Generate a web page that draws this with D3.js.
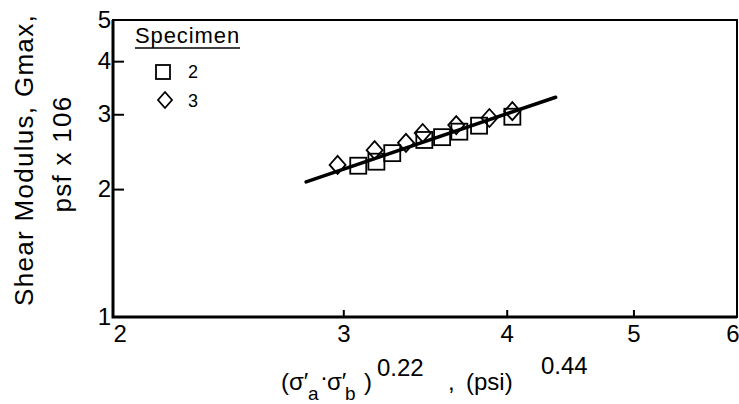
<!DOCTYPE html>
<html>
<head>
<meta charset="utf-8">
<script src="https://cdn.jsdelivr.net/npm/d3@7"></script>
<style>
  body { margin: 0; background: #fff; }
  svg { display: block; font-family: "Liberation Sans", Arial, sans-serif; }
  .axis path { display: none; }
  .axis line { stroke: #000; stroke-width: 2; }
  .axis text { font-family: "Liberation Sans", Arial, sans-serif; font-size: 24px; fill: #000; }
</style>
</head>
<body>
<svg id="chart" width="739" height="404"></svg>
<script>
// tick values
var xTicks = [2, 3, 4, 5, 6];
var yTicks = [1, 2, 3, 4, 5];

// specimen 2 (squares)
var spec2X = [3.08, 3.18, 3.27, 3.46, 3.57, 3.68, 3.81, 4.04];
var spec2Y = [2.27, 2.32, 2.43, 2.61, 2.65, 2.73, 2.82, 2.96];

// specimen 3 (diamonds)
var spec3X = [2.97, 3.17, 3.35, 3.45, 3.66, 3.88, 4.04];
var spec3Y = [2.28, 2.47, 2.57, 2.71, 2.83, 2.94, 3.05];

// fitted line end points
var fitX = [2.81, 4.36];
var fitY = [2.08, 3.29];

var legendLabels = ["2", "3"];

var svg = d3.select("#chart");

var x = d3.scaleLog().domain([2, 6]).range([113, 737]);
var y = d3.scaleLog().domain([1, 5]).range([317, 20]);

// Frame
svg.append("rect")
    .attr("x", x(2)).attr("y", y(5))
    .attr("width", x(6) - x(2)).attr("height", y(1) - y(5))
    .attr("fill", "none").attr("stroke", "#000").attr("stroke-width", 2);
svg.append("path")
    .attr("d", "M" + x(2) + "," + y(5) + "V" + y(1) + "H" + x(6))
    .attr("fill", "none").attr("stroke", "#000").attr("stroke-width", 3);

// Axes, ticks pointing inward
var xAxis = svg.append("g")
    .attr("class", "axis")
    .attr("transform", "translate(0," + y(1) + ")")
    .call(d3.axisBottom(x).tickValues(xTicks).tickFormat(d3.format("d"))
      .tickSizeInner(-7).tickSizeOuter(0).tickPadding(8));
xAxis.selectAll(".tick").filter(function(d) { return d === 2 || d === 6; }).select("line").remove();
xAxis.selectAll(".tick").filter(function(d) { return d === 2; }).select("text")
    .attr("text-anchor", "start").attr("x", 0);
xAxis.selectAll(".tick").filter(function(d) { return d === 6; }).select("text")
    .attr("text-anchor", "end").attr("x", 2);

var yAxis = svg.append("g")
    .attr("class", "axis")
    .attr("transform", "translate(" + x(2) + ",0)")
    .call(d3.axisLeft(y).tickValues(yTicks).tickFormat(d3.format("d"))
      .tickSizeInner(-11).tickSizeOuter(0).tickPadding(2));
yAxis.selectAll(".tick").filter(function(d) { return d === 1 || d === 5; }).select("line").remove();

// Fitted line
svg.append("line")
    .attr("x1", x(fitX[0])).attr("y1", y(fitY[0]))
    .attr("x2", x(fitX[1])).attr("y2", y(fitY[1]))
    .attr("stroke", "#000").attr("stroke-width", 3.5).attr("stroke-linecap", "round");

function diamond(cx, cy, w, h) {
  return "M" + cx + "," + (cy - h) + "L" + (cx + w) + "," + cy +
    "L" + cx + "," + (cy + h) + "L" + (cx - w) + "," + cy + "Z";
}

// Specimen 3 diamonds
svg.append("g").selectAll("path")
    .data(d3.range(spec3X.length))
  .join("path")
    .attr("d", function(i) { return diamond(x(spec3X[i]), y(spec3Y[i]), 8, 9); })
    .attr("fill", "none").attr("stroke", "#000").attr("stroke-width", 1.8);

// Specimen 2 squares
svg.append("g").selectAll("rect")
    .data(d3.range(spec2X.length))
  .join("rect")
    .attr("x", function(i) { return x(spec2X[i]) - 8; })
    .attr("y", function(i) { return y(spec2Y[i]) - 8; })
    .attr("width", 16).attr("height", 16)
    .attr("fill", "none").attr("stroke", "#000").attr("stroke-width", 1.8);

// Legend
var legend = svg.append("g").attr("transform", "translate(135,0)");
legend.append("text")
    .attr("x", 0).attr("y", 43)
    .attr("font-size", 22).attr("letter-spacing", 0.9)
    .text("Specimen");
legend.append("line")
    .attr("x1", 0).attr("x2", 105).attr("y1", 48).attr("y2", 48)
    .attr("stroke", "#000").attr("stroke-width", 1.6);
legend.append("rect")
    .attr("x", 21).attr("y", 65).attr("width", 14).attr("height", 14)
    .attr("fill", "none").attr("stroke", "#000").attr("stroke-width", 1.8);
legend.append("path")
    .attr("d", diamond(30, 100, 7, 8))
    .attr("fill", "none").attr("stroke", "#000").attr("stroke-width", 1.8);
legend.selectAll("text.lab")
    .data(legendLabels)
  .join("text")
    .attr("class", "lab")
    .attr("x", 53)
    .attr("y", function(d, i) { return 78 + i * 29; })
    .attr("font-size", 18)
    .text(function(d) { return d; });

// Y axis title
var yTitle = svg.append("text")
    .attr("transform", "translate(33,160) rotate(-90)")
    .attr("text-anchor", "middle")
    .attr("font-size", 26).attr("letter-spacing", 1.3);
yTitle.append("tspan").attr("x", 0).attr("y", 0).text("Shear Modulus, Gmax,");
yTitle.append("tspan").attr("x", 0).attr("y", 38).attr("dx", 6).text("psf x 106");

// X axis title
var xt = svg.append("g").attr("font-size", 24);
xt.append("text").attr("x", 281).attr("y", 390).text("(σ′");
xt.append("text").attr("x", 308).attr("y", 400).attr("font-size", 19).text("a");
xt.append("text").attr("x", 320).attr("y", 385).text("·");
xt.append("text").attr("x", 327).attr("y", 390).text("σ′");
xt.append("text").attr("x", 345).attr("y", 400).attr("font-size", 19).text("b");
xt.append("text").attr("x", 364).attr("y", 390).text(")");
xt.append("text").attr("x", 377).attr("y", 376).text("0.22");
xt.append("text").attr("x", 448).attr("y", 390).text(",");
xt.append("text").attr("x", 466).attr("y", 390).text("(psi)");
xt.append("text").attr("x", 541).attr("y", 374).text("0.44");
</script>
</body>
</html>
